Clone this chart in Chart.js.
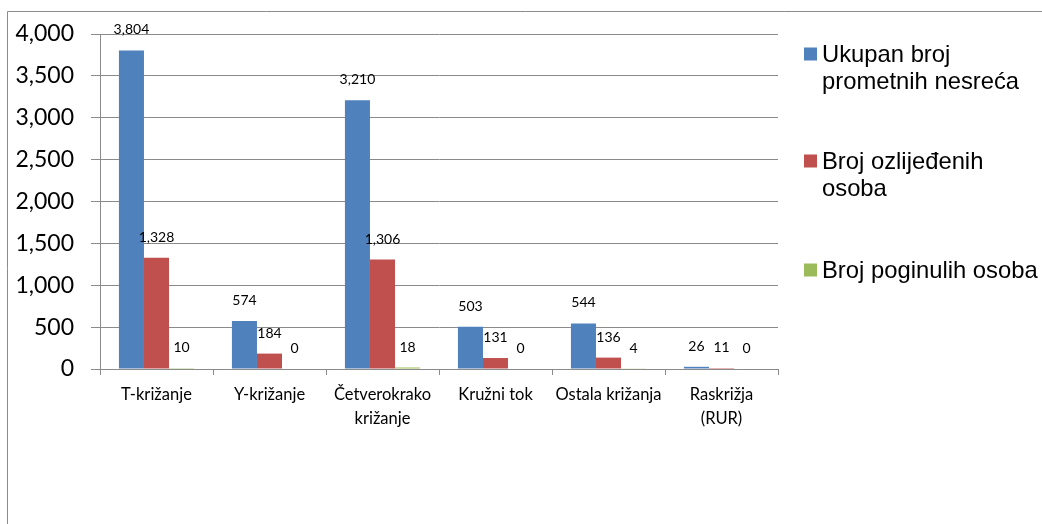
<!DOCTYPE html>
<html>
<head>
<meta charset="utf-8">
<script src="https://cdn.jsdelivr.net/npm/chart.js@4"></script>
<style>
html,body{margin:0;padding:0;background:#fff;}
#wrap{position:relative;width:1042px;height:524px;}
</style>
</head>
<body>
<div id="wrap"><canvas id="c" width="1042" height="524"></canvas></div>
<script>
const categories = [["T-križanje"], ["Y-križanje"], ["Četverokrako", "križanje"], ["Kružni tok"], ["Ostala križanja"], ["Raskrižja", "(RUR)"]];
const seriesNames = [["Ukupan broj", "prometnih nesreća"], ["Broj ozlijeđenih", "osoba"], ["Broj poginulih osoba"]];
const ukupan = [3804, 574, 3210, 503, 544, 26];
const ozlijedeni = [1328, 184, 1306, 131, 136, 11];
const poginuli = [10, 0, 18, 0, 4, 0];
const colors = ["#4F81BD", "#C0504D", "#9BBB59"];
const yTicks = [0, 500, 1000, 1500, 2000, 2500, 3000, 3500, 4000];

const gridColor = "#8a8a8a";
const fmt = v => v.toLocaleString("en-US");

const decor = {
  id: "decor",
  beforeDraw(chart) {
    const ctx = chart.ctx;
    ctx.save();
    ctx.strokeStyle = "#8c8c8c";
    ctx.lineWidth = 1;
    ctx.beginPath();
    ctx.moveTo(7.5, 530);
    ctx.lineTo(7.5, 11.5);
    ctx.lineTo(1050, 11.5);
    ctx.stroke();
    ctx.restore();
  },
  afterDatasetsDraw(chart) {
    const ctx = chart.ctx;
    ctx.save();
    ctx.font = "14px Lato";
    ctx.fillStyle = "#000";
    ctx.textAlign = "center";
    ctx.textBaseline = "middle";
    chart.data.datasets.forEach((ds, di) => {
      const meta = chart.getDatasetMeta(di);
      meta.data.forEach((bar, i) => {
        ctx.fillText(fmt(ds.data[i]), bar.x, bar.y - 20.5);
      });
    });
    // legend
    const boxX = 804, textX = 822;
    const tops = [54, 161, 270];
    ctx.font = "23.8px 'Liberation Sans', Arial";
    ctx.textAlign = "left";
    seriesNames.forEach((lines, si) => {
      ctx.fillStyle = colors[si];
      ctx.fillRect(boxX, tops[si] - 6.5, 13, 13);
      ctx.fillStyle = "#000";
      lines.forEach((ln, li) => {
        ctx.fillText(ln, textX, tops[si] + li * 27.5 + 1);
      });
    });
    ctx.restore();
  }
};

new Chart(document.getElementById("c"), {
  type: "bar",
  data: {
    labels: categories,
    datasets: [
      { label: "Ukupan broj prometnih nesreća", data: ukupan, backgroundColor: colors[0] },
      { label: "Broj ozlijeđenih osoba", data: ozlijedeni, backgroundColor: colors[1] },
      { label: "Broj poginulih osoba", data: poginuli, backgroundColor: colors[2] }
    ]
  },
  options: {
    responsive: false,
    animation: false,
    events: [],
    layout: { padding: { top: 34, right: 264, left: 0, bottom: 0 } },
    datasets: { bar: { barPercentage: 1.0, categoryPercentage: 0.665 } },
    plugins: { legend: { display: false }, tooltip: { enabled: false } },
    scales: {
      x: {
        grid: { display: true, drawOnChartArea: false, offset: true, color: gridColor, tickLength: 6, lineWidth: 1 },
        border: { display: true, color: gridColor, width: 1 },
        ticks: { color: "#000", font: { family: "Lato", size: 16.5, lineHeight: 1.45 }, padding: 8, maxRotation: 0, autoSkip: false },
        afterFit(s) { s.height = 155; }
      },
      y: {
        min: 0, max: 4000,
        afterBuildTicks(s) { s.ticks = yTicks.map(v => ({ value: v })); },
        grid: { color: gridColor, tickLength: 9, lineWidth: 1 },
        border: { display: true, color: gridColor, width: 1 },
        ticks: { color: "#000", font: { family: "Lato", size: 23 }, padding: 17, callback: v => fmt(v) },
        afterFit(s) { s.width = 100; }
      }
    }
  },
  plugins: [decor]
});
</script>
</body>
</html>
